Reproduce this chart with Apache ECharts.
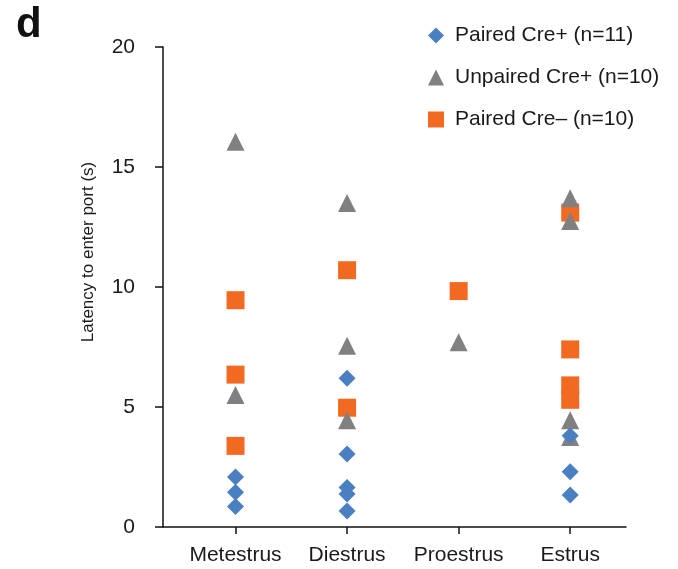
<!DOCTYPE html>
<html>
<head>
<meta charset="utf-8">
<script src="https://cdn.jsdelivr.net/npm/echarts@6/dist/echarts.min.js"></script>
<style>html,body{margin:0;padding:0;background:#fff}#c{width:678px;height:569px}</style>
</head>
<body>
<div id="c"></div>
<script>
const categories = ['Metestrus', 'Diestrus', 'Proestrus', 'Estrus'];
const seriesNames = ['Paired Cre+ (n=11)', 'Unpaired Cre+ (n=10)', 'Paired Cre\u2013 (n=10)'];
// values per category (Metestrus, Diestrus, Proestrus, Estrus)
const pairedCrePlus = [[2.08, 1.45, 0.85], [6.2, 3.04, 1.65, 1.37, 0.67], [], [3.8, 2.3, 1.33]];
const unpairedCrePlus = [[16.05, 5.5], [13.5, 7.55, 4.45], [7.7], [13.7, 12.75, 4.45, 3.75]];
const pairedCreMinus = [[9.45, 6.35, 3.38], [10.7, 4.97], [9.83], [13.1, 7.4, 5.9, 5.3]];
const yTicks = [0, 5, 10, 15, 20];

function toPoints(groups) {
  const out = [];
  groups.forEach((vals, i) => vals.forEach(v => out.push([i + 1, v])));
  return out;
}

const font = 'Liberation Sans, Arial, sans-serif';
const chart = echarts.init(document.getElementById('c'), null, { renderer: 'canvas' });
chart.setOption({
  animation: false,
  backgroundColor: '#fff',
  grid: { left: 163, right: 52, top: 47, bottom: 42, containLabel: false },
  graphic: [
    { type: 'text', left: 16, top: 4, style: { text: 'd', font: 'bold 42px ' + font, fill: '#111' } },
    { type: 'text', x: 88, y: 252, rotation: Math.PI / 2,
      style: { text: 'Latency to enter port (s)', font: '17px ' + font, fill: '#1a1a1a', align: 'center', verticalAlign: 'middle' } }
  ],
  legend: {
    orient: 'vertical', left: 428, top: 25, padding: 0, itemGap: 21,
    itemWidth: 16, itemHeight: 16,
    textStyle: { fontFamily: font, fontSize: 21, color: '#1a1a1a', padding: [0, 0, 0, 6] },
    data: seriesNames
  },
  xAxis: {
    type: 'value', min: 0.35, max: 4.5,
    splitLine: { show: false },
    axisLine: { show: true, lineStyle: { color: '#111', width: 1.5 } },
    axisTick: { show: true, length: 7, customValues: [1, 2, 3, 4], lineStyle: { color: '#111', width: 1.5 } },
    axisLabel: {
      customValues: [1, 2, 3, 4], margin: 18,
      formatter: v => categories[Math.round(v) - 1] || '',
      fontFamily: font, fontSize: 21, color: '#1a1a1a'
    }
  },
  yAxis: {
    type: 'value', min: 0, max: 20, interval: 5,
    splitLine: { show: false },
    axisLine: { show: true, onZero: false, lineStyle: { color: '#111', width: 1.5 } },
    axisTick: { show: true, length: 8, lineStyle: { color: '#111', width: 1.5 } },
    axisLabel: { margin: 28, fontFamily: font, fontSize: 21, color: '#1a1a1a',
      formatter: v => yTicks.includes(v) ? String(v) : '' }
  },
  series: [
    { name: seriesNames[0], type: 'scatter', symbol: 'diamond', symbolSize: 17,
      itemStyle: { color: '#4a7fc1', opacity: 1 }, data: toPoints(pairedCrePlus), z: 4 },
    { name: seriesNames[1], type: 'scatter', symbol: 'triangle', symbolSize: 18,
      itemStyle: { color: '#808080', opacity: 1 }, data: toPoints(unpairedCrePlus), z: 3 },
    { name: seriesNames[2], type: 'scatter', symbol: 'rect', symbolSize: 18,
      itemStyle: { color: '#f26a21', opacity: 1 }, data: toPoints(pairedCreMinus), z: 2 }
  ]
});
</script>
</body>
</html>
